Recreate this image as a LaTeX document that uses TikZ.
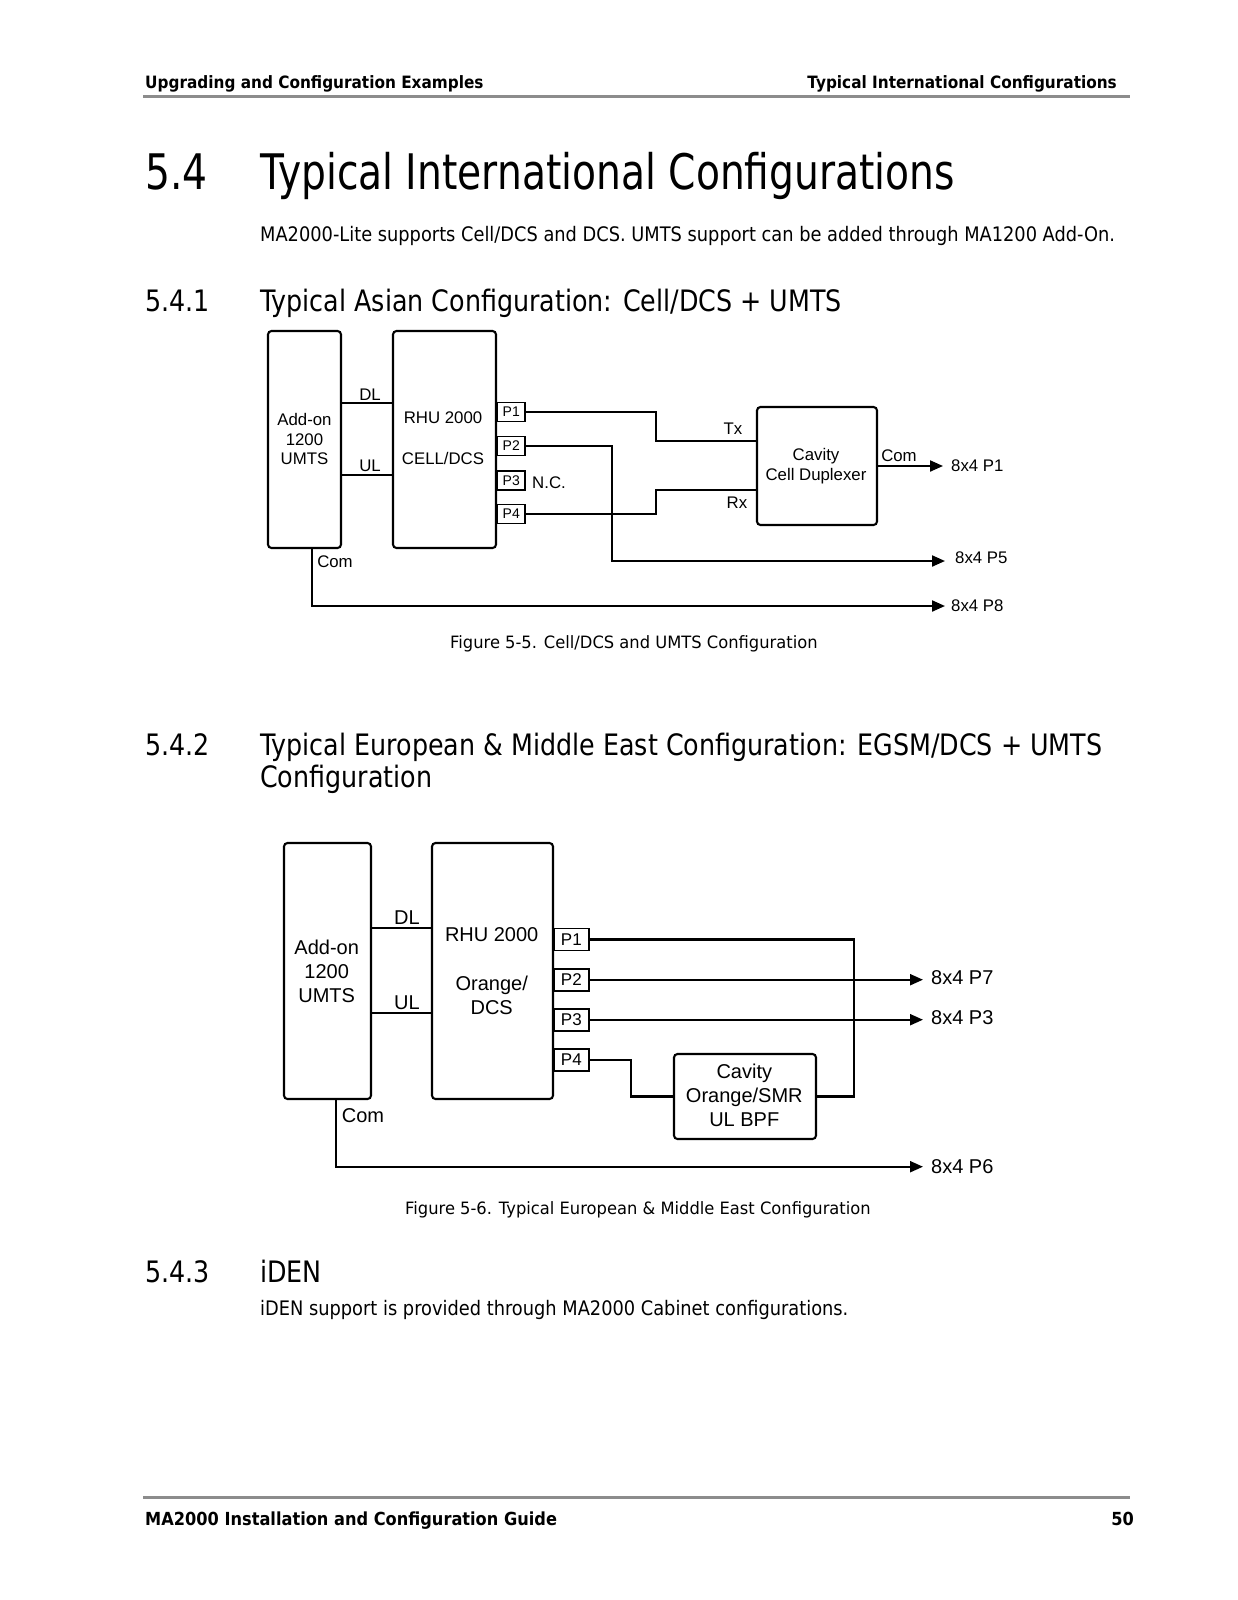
\documentclass[tikz,border=0pt]{standalone}
\usepackage{fontspec}
\usetikzlibrary{arrows.meta,calc}
\newfontfamily\bodyf[FakeStretch=0.89]{DejaVu Sans}
\newfontfamily\titf[FakeStretch=0.8]{DejaVu Sans}
\newfontfamily\secf[FakeStretch=0.86]{DejaVu Sans}
\newfontfamily\capf[FakeStretch=0.96]{DejaVu Sans}
\newfontfamily\headf[FakeStretch=0.9]{DejaVu Sans}
\newfontfamily\diagf{Liberation Sans}
\tikzset{
  wire/.style={line width=2.1pt},
  arr/.style={line width=2.1pt,-{Triangle[length=13pt,width=11pt]}},
  blk/.style={draw,line width=2.1pt,rounded corners=3.5pt,inner sep=0},
  prtA/.style={draw,line width=1.7pt,inner sep=0,anchor=west,minimum width=28pt,minimum height=19pt,font=\diagf\fontsize{14}{16}\selectfont},
  prtB/.style={draw,line width=1.9pt,inner sep=0,anchor=west,minimum width=35pt,minimum height=22pt,font=\diagf\fontsize{17}{19}\selectfont},
  txt/.style={inner sep=0,anchor=base west},
  dA/.style={inner sep=0,font=\diagf\fontsize{16.8}{19.5}\selectfont,align=center},
  dB/.style={inner sep=0,font=\diagf\fontsize{20}{24}\selectfont,align=center},
}
\begin{document}
\begin{tikzpicture}[x=1pt,y=-1pt]
\useasboundingbox[fill=white] (0,0) rectangle (1237,1600);
% header
\node[txt] (hl) at (145,89) {\headf\bfseries\fontsize{17}{20}\selectfont Upgrading and Configuration Examples};
\node[inner sep=0,anchor=base east] (hr) at (1117,89) {\headf\bfseries\fontsize{17}{20}\selectfont Typical International Configurations};
\draw[black!45,line width=3pt] (143,97) -- (1130,97);
% title
\node[txt] (tn) at (145,189) {\titf\fontsize{49}{55}\selectfont 5.4};
\node[txt] (tt) at (260,189) {\titf\fontsize{49}{55}\selectfont Typical International Configurations};
\node[txt] (b1) at (260,241) {\bodyf\fontsize{20}{24}\selectfont MA2000-Lite supports Cell/DCS and DCS. UMTS support can be added through MA1200 Add-On.};
\node[txt] (s1n) at (145,311) {\secf\fontsize{29.5}{34}\selectfont 5.4.1};
\node[txt] (s1t) at (260,311) {\secf\fontsize{29.5}{34}\selectfont Typical Asian Configuration: Cell/DCS + UMTS};
\node[txt] (c1) at (450,648) {\capf\fontsize{17}{20}\selectfont Figure 5-5. Cell/DCS and UMTS Configuration};
\node[txt] (s2n) at (145,755) {\secf\fontsize{29.5}{34}\selectfont 5.4.2};
\node[txt] (s2t) at (260,755) {\secf\fontsize{29.5}{34}\selectfont Typical European \& Middle East Configuration: EGSM/DCS + UMTS};
\node[txt] (s2u) at (260,787) {\secf\fontsize{29.5}{34}\selectfont Configuration};
\node[txt] (c2) at (405,1214) {\capf\fontsize{17}{20}\selectfont Figure 5-6. Typical European \& Middle East Configuration};
\node[txt] (s3n) at (145,1282) {\secf\fontsize{29.5}{34}\selectfont 5.4.3};
\node[txt] (s3t) at (260,1282) {\secf\fontsize{29.5}{34}\selectfont iDEN};
\node[txt] (b3) at (260,1315) {\bodyf\fontsize{20}{24}\selectfont iDEN support is provided through MA2000 Cabinet configurations.};
% footer
\draw[black!45,line width=3pt] (143,1497) -- (1130,1497);
\node[txt] (fl) at (145,1525) {\headf\bfseries\fontsize{18}{21}\selectfont MA2000 Installation and Configuration Guide};
\node[inner sep=0,anchor=base east] (fr) at (1134,1525) {\headf\bfseries\fontsize{18}{21}\selectfont 50};

% ---------- diagram 1 ----------
\node[blk,minimum width=73pt,minimum height=217pt] (aAdd) at (304.5,439.5) {};
\node[dA] (aAddT) at (304.5,439) {Add-on\\1200\\UMTS};
\node[blk,minimum width=103pt,minimum height=217pt] (aRhu) at (444.5,439.5) {};
\node[dA] (aR1) at (443,418) {RHU 2000};
\node[dA] (aR2) at (443,458) {CELL/DCS};
\draw[wire] (aAdd.east |- 0,403) coordinate (aDLs) -- (aRhu.west |- aDLs) coordinate (aDLe);
\node[dA] (aDL) at (370,395) {DL};
\draw[wire] (aAdd.east |- 0,475) coordinate (aULs) -- (aRhu.west |- aULs) coordinate (aULe);
\node[dA] (aUL) at (370,466) {UL};
\node[prtA] (aP1) at (496,412) {\makebox[24pt][l]{ P1}};
\node[prtA] (aP2) at (496,446) {\makebox[24pt][l]{ P2}};
\node[prtA] (aP3) at (496,480.5) {\makebox[24pt][l]{ P3}};
\node[prtA] (aP4) at (496,514) {\makebox[24pt][l]{ P4}};
\node[dA,anchor=west] (aNC) at (532,483) {N.C.};
\node[blk,minimum width=120pt,minimum height=118pt] (aCav) at (817,466) {};
\node[dA] (aCavT) at (816,466) {Cavity\\Cell Duplexer};
\coordinate (aJ1) at (656,441);
\coordinate (aJ4) at (656,490);
\draw[wire] (aP1.east) -| (aJ1) -- (aCav.west |- aJ1);
\draw[wire] (aP4.east) -| (aJ4) -- (aCav.west |- aJ4);
\node[dA] (aTx) at (733,429) {Tx};
\node[dA] (aRx) at (737,503) {Rx};
\coordinate (aO1) at (943,466);
\draw[arr] (aCav.east) -- (aO1);
\node[dA] (aCom1) at (899,456) {Com};
\node[dA,anchor=west] (aL1) at (951,466) {8x4 P1};
\coordinate (aJ2) at (612,561);
\coordinate (aO5) at (945,561);
\draw[arr] (aP2.east) -| (aJ2) -- (aO5);
\node[dA,anchor=west] (aL5) at (955,558) {8x4 P5};
\coordinate (aJc) at (312,606);
\coordinate (aO8) at (945,606);
\draw[arr] (aJc |- aAdd.south) -- (aJc) -- (aO8);
\node[dA] (aCom2) at (335,562) {Com};
\node[dA,anchor=west] (aL8) at (951,606) {8x4 P8};

% ---------- diagram 2 ----------
\node[blk,minimum width=87pt,minimum height=256pt] (bAdd) at (327.5,971) {};
\node[dB] (bAddT) at (326.7,971) {Add-on\\1200\\UMTS};
\node[blk,minimum width=121pt,minimum height=256pt] (bRhu) at (492.5,971) {};
\node[dB] (bR1) at (491.7,935) {RHU 2000};
\node[dB] (bR2) at (491.7,995) {Orange/\\DCS};
\draw[wire] (bAdd.east |- 0,927.7) coordinate (bDLs) -- (bRhu.west |- bDLs) coordinate (bDLe);
\node[dB] (bDL) at (407,918) {DL};
\draw[wire] (bAdd.east |- 0,1013.3) coordinate (bULs) -- (bRhu.west |- bULs) coordinate (bULe);
\node[dB] (bUL) at (407,1003) {UL};
\node[prtB] (bP1) at (553.3,939.5) {\makebox[31pt][l]{ P1}};
\node[prtB] (bP2) at (553.3,979.7) {\makebox[31pt][l]{ P2}};
\node[prtB] (bP3) at (553.3,1019.7) {\makebox[31pt][l]{ P3}};
\node[prtB] (bP4) at (553.3,1060) {\makebox[31pt][l]{ P4}};
\node[blk,minimum width=142pt,minimum height=85pt] (bCav) at (745,1096.5) {};
\node[dB] (bCavT) at (744.3,1095) {Cavity\\Orange/SMR\\UL BPF};
\coordinate (bJ1) at (854,1096.5);
\draw[wire] (bP1.east) -| (bJ1) -- (bCav.east);
\coordinate (bJ4) at (631,1096.5);
\draw[wire] (bP4.east) -| (bJ4) -- (bCav.west);
\coordinate (bO7) at (923,979.7);
\draw[arr] (bP2.east) -- (bO7);
\node[dB,anchor=west] (bL7) at (931,978) {8x4 P7};
\coordinate (bO3) at (923,1019.7);
\draw[arr] (bP3.east) -- (bO3);
\node[dB,anchor=west] (bL3) at (931,1018) {8x4 P3};
\coordinate (bJc) at (336,1166.7);
\coordinate (bO6) at (923,1166.7);
\draw[arr] (bJc |- bAdd.south) -- (bJc) -- (bO6);
\node[dB] (bCom) at (363,1116) {Com};
\node[dB,anchor=west] (bL6) at (931,1166.7) {8x4 P6};
\end{tikzpicture}
\end{document}
